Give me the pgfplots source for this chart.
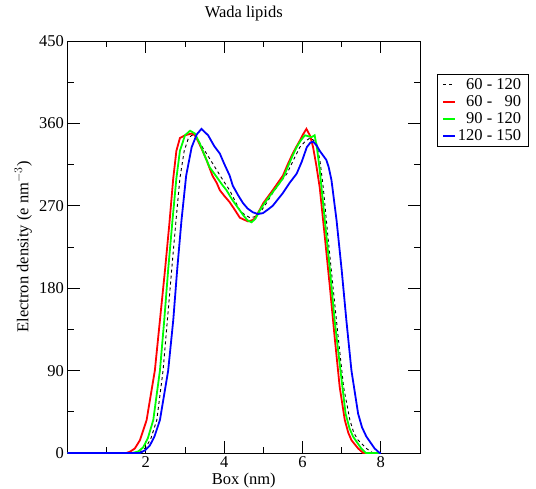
\documentclass[border=0pt]{standalone}
\usepackage{pgfplots}
\pgfplotsset{compat=1.18}
\usepackage{fontspec}
\setmainfont{Liberation Serif}
\begin{document}
\begin{tikzpicture}
\path[use as bounding box] (0,0) rectangle (536pt,488pt);
\begin{axis}[
  at={(67.5pt,35pt)}, anchor=south west,
  scale only axis, width=352.5pt, height=412pt,
  xmin=0, xmax=9, ymin=0, ymax=450,
  xtick={2,4,6,8}, minor xtick={1,3,5,7},
  ytick={0,90,180,270,360,450}, minor ytick={45,135,225,315,405},
  tick align=inside,
  major tick length=12pt, minor tick length=6pt,
  every tick/.style={black, line width=0.8pt},
  axis line style={line width=0.8pt},
  /pgf/number format/assume math mode=true,
  tick label style={font=\fontsize{16.5}{18}\selectfont},
  label style={font=\fontsize{16.5}{18}\selectfont},
  xlabel={Box (nm)},
  ylabel={Electron density (e nm$^{-3}$)},
  title={Wada lipids},
  title style={font=\fontsize{16.5}{18}\selectfont, at={(rel axis cs:0.5,1.051)}, anchor=center},
  xlabel style={at={(rel axis cs:0.5,-0.068)}, anchor=center},
  ylabel style={at={(rel axis cs:-0.126,0.5)}, anchor=center},
  legend cell align=right,
  legend style={at={(rel axis cs:1.048,0.92)}, anchor=north west,
    font=\fontsize{16.5}{18}\selectfont, draw=black,
    inner xsep=5pt, inner ysep=2.5pt, row sep=0.5pt},
  legend image code/.code={\draw[#1] (0pt,0pt) -- (12pt,0pt);},
]
\addplot[black, dashed, line width=0.9pt] coordinates {
(0,0)(1.75,0)(1.88,1.5)(2.0,6)(2.13,16)(2.28,36)(2.44,90)(2.55,145)(2.66,200)(2.77,254)(2.87,300)(2.98,330)(3.08,343)(3.17,347)(3.28,346)(3.4,337)(3.55,327)(3.68,318)(3.81,309)(3.97,298)(4.14,287)(4.28,275)(4.4,265)(4.53,260)(4.66,257)(4.78,258)(4.91,262)(5.08,273)(5.24,284)(5.42,295)(5.6,305)(5.77,320)(5.93,334)(6.06,340)(6.19,344)(6.27,342)(6.36,338)(6.45,318)(6.53,290)(6.65,236)(6.78,181)(6.91,127)(7.05,72)(7.21,36)(7.31,22)(7.42,14)(7.63,5)(7.8,0)(8.0,0)
};
\addlegendentry{60 - 120}
\addplot[red, line width=1.8pt] coordinates {
(0,0)(1.5,0)(1.6,1.5)(1.72,5)(1.85,14)(2.02,36)(2.23,90)(2.36,145)(2.49,200)(2.6,250)(2.7,300)(2.78,330)(2.87,344)(3.0,347)(3.17,349)(3.25,347)(3.33,341)(3.45,330)(3.55,320)(3.7,303)(3.81,295)(3.89,287)(4.0,281)(4.14,274)(4.25,267)(4.4,257)(4.5,255)(4.61,253)(4.7,254)(4.78,256)(4.9,265)(5.0,273)(5.12,280)(5.24,287)(5.37,295)(5.5,303)(5.62,315)(5.75,327)(5.85,335)(5.93,341)(6.0,347)(6.10,354)(6.2,346)(6.27,334)(6.35,315)(6.44,290)(6.57,236)(6.70,181)(6.82,127)(6.95,72)(7.08,36)(7.17,22)(7.25,14)(7.42,5)(7.55,0)(8.0,0)
};
\addlegendentry{60 - \hphantom{1}90}
\addplot[green, line width=1.8pt] coordinates {
(0,0)(1.65,0)(1.8,1.5)(1.93,6)(2.05,16)(2.19,36)(2.36,90)(2.47,145)(2.57,200)(2.68,254)(2.78,300)(2.87,330)(3.0,347)(3.13,352)(3.25,349)(3.38,338)(3.5,325)(3.63,312)(3.8,302)(3.95,293)(4.06,287)(4.2,277)(4.35,268)(4.5,259)(4.6,254)(4.7,252)(4.8,256)(4.91,265)(5.03,273)(5.17,281)(5.33,290)(5.5,300)(5.62,312)(5.75,325)(5.85,334)(5.95,341)(6.06,347)(6.15,346)(6.23,345)(6.31,347)(6.37,333)(6.44,309)(6.57,254)(6.70,200)(6.82,145)(6.97,90)(7.10,43)(7.2,27)(7.29,18)(7.5,5)(7.62,0)(8.0,0)
};
\addlegendentry{90 - 120}
\addplot[blue, line width=1.8pt] coordinates {
(0,0)(1.85,0)(1.98,3)(2.1,8)(2.22,18)(2.36,36)(2.57,90)(2.70,145)(2.80,200)(2.91,254)(3.03,303)(3.17,334)(3.3,348)(3.42,354)(3.59,347)(3.75,335)(3.89,327)(4.0,316)(4.14,303)(4.22,292)(4.35,282)(4.48,273)(4.6,267)(4.73,263)(4.86,261)(4.99,262)(5.12,266)(5.24,270)(5.37,277)(5.5,284)(5.67,295)(5.85,305)(5.98,318)(6.11,334)(6.2,339)(6.27,340)(6.36,336)(6.44,330)(6.61,320)(6.67,312)(6.74,298)(6.87,254)(7.0,200)(7.12,145)(7.25,90)(7.42,43)(7.52,28)(7.63,18)(7.84,5)(7.97,0)(8.0,0)
};
\addlegendentry{120 - 150}
\end{axis}
\end{tikzpicture}
\end{document}
